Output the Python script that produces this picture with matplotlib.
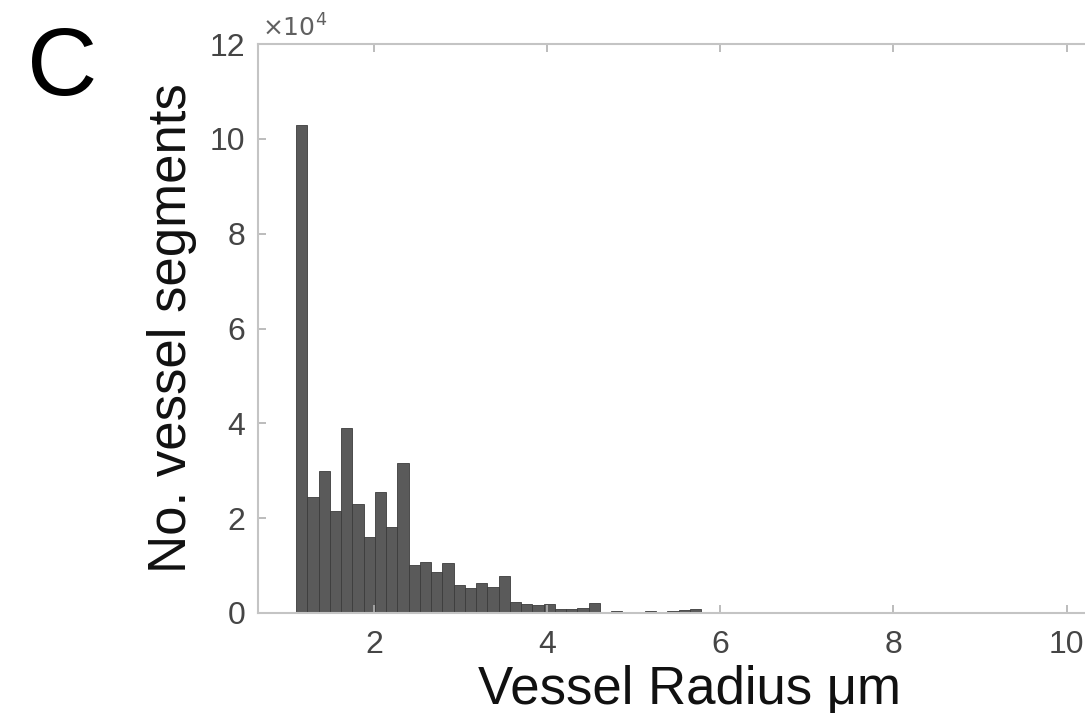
import numpy as np
import matplotlib
matplotlib.use("Agg")
import matplotlib.pyplot as plt
from matplotlib.ticker import FuncFormatter

# ---- data ----
bin_start = 1.1      # µm, left edge of first bin
bin_width = 0.13     # µm
counts = [103000, 24400, 30000, 21500, 39000, 23000, 16000, 25600, 18100, 31600,
          10100, 10800, 8700, 10600, 5900, 5200, 6300, 5400, 7700, 2400,
          1900, 1700, 2000, 800, 800, 1000, 2200, 300, 400, 200,
          300, 400, 300, 400, 600, 800, 300, 200, 100, 100,
          100, 50, 50, 50, 50, 50]
x_ticks = [2, 4, 6, 8, 10]
y_ticks = [0, 20000, 40000, 60000, 80000, 100000, 120000]

plt.rcParams['font.family'] = ['Liberation Sans', 'DejaVu Sans']

W, H = 1085, 713
fig = plt.figure(figsize=(W / 100, H / 100), dpi=100)

ax_left, ax_right, ax_top, ax_bottom = 258, 1116, 44, 613
ax = fig.add_axes([ax_left / W, (H - ax_bottom) / H,
                   (ax_right - ax_left) / W, (ax_bottom - ax_top) / H])

edges = bin_start + bin_width * np.arange(len(counts) + 1)
centers = (edges[:-1] + edges[1:]) / 2
ax.bar(centers, counts, width=bin_width, align='center',
       facecolor='#5a5a5a', edgecolor='#3c3c3c', linewidth=0.6)

ax.set_xlim(0.661, 10.57)
ax.set_ylim(0, 120000)
ax.set_xticks(x_ticks)
ax.set_yticks(y_ticks)
ax.yaxis.set_major_formatter(FuncFormatter(lambda v, p: f"{v / 1e4:g}"))

spine_col = '#c4c4c4'
for s in ax.spines.values():
    s.set_color(spine_col)
    s.set_linewidth(1.5)
ax.spines['right'].set_visible(False)

ax.tick_params(axis='both', direction='in', length=6, width=1.2,
               color='#b0b0b0', labelcolor='#454545', labelsize=23,
               top=True, right=False)
ax.tick_params(axis='x', pad=12)
ax.tick_params(axis='y', pad=9)

# exponent label
fig.text(262 / W, (H - 37) / H, r'$\times10^{4}$', color='#606060',
         fontsize=18, ha='left', va='baseline')

# axis labels
fig.text(172 / W, 1 - 328 / H, 'No. vessel segments', rotation=90,
         fontsize=38, color='#111111', ha='center', va='center')
fig.text(690 / W, (H - 704) / H, 'Vessel Radius μm', fontsize=38,
         color='#111111', ha='center', va='baseline')

# panel letter
fig.text(62 / W, (H - 95) / H, 'C', fontsize=70, color='black',
         ha='center', va='baseline')

fig.savefig('out.png', dpi=100, facecolor='white')
